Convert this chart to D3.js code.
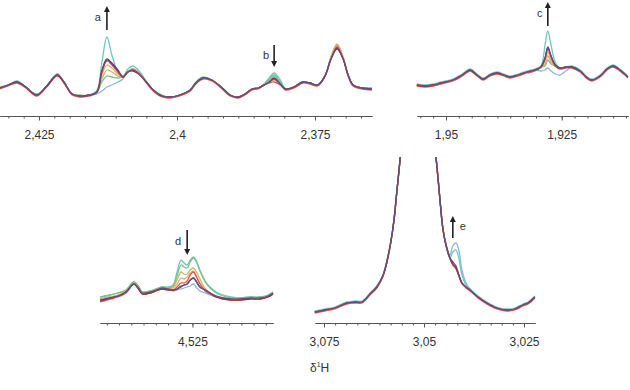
<!DOCTYPE html>
<html>
<head>
<meta charset="utf-8">
<script src="https://cdn.jsdelivr.net/npm/d3@7"></script>
<style>
  body { margin: 0; background: #fff; }
  svg text { font-family: "Liberation Sans", Arial, sans-serif; fill: #333; }
</style>
</head>
<body>
<svg id="chart" width="630" height="390"></svg>
<script>
// series order (one spectrum per time point)
var seriesNames = ["lightblue", "cyan", "green", "olive", "orange", "red", "darkred", "purple"];
var seriesColors = ["#8fb6dd", "#6fc7c1", "#7fbf86", "#c9b769", "#f2a676", "#d8574f", "#9a3046", "#5b5283"];

// panel A : 2,43 - 2,365 ppm
var ppmA = [2.4321,2.4306,2.4290,2.4274,2.4254,2.4236,2.4217,2.4205,2.4190,2.4176,2.4158,2.4145,2.4136,2.4127,2.4118,2.4107,2.4098,2.4089,2.4080,2.4067,2.4054,2.4043,2.4027,2.4013,2.3995,2.3976,2.3966,2.3953,2.3937,2.3918,2.3904,2.3889,2.3877,2.3864,2.3853,2.3842,2.3833,2.3824,2.3813,2.3803,2.3788,2.3772,2.3759,2.3745,2.3732,2.3721,2.3710,2.3699,2.3690,2.3681,2.3665,2.3647];
var intA = {
  lightblue: [12,15,18,13,5,14,25,18,6,4,5, 6,9,13,15,18,21,28,31,26, 17,10,4,3,5,10,17,22,20,12,5,3,6,11,12, 15,19,24,17, 11,13,18,17,15,24,42, 54, 42,25,15,12,12],
  cyan:      [12,15,19,13,5,14,26,18,6,4,5, 10,38,63,45,28,24,31,34,28, 17,10,4,3,5,10,18,23,20,12,5,3,6,11,12, 16,22,27,20, 11,13,18,17,15,24,42, 54, 42,25,15,12,11],
  green:     [13,15,18,13,6,14,26,18,6,5,5, 8,18,24,23,22,23,28,31,26, 17,10,5,3,5,10,17,22,20,12,5,3,6,11,12, 16,21,25,18, 11,13,18,17,15,24,43, 55, 42,25,15,12,12],
  olive:     [12,15,18,13,5,14,25,18,6,4,5, 8,21,30,28,24,23,28,31,26, 17,10,4,3,5,10,17,22,20,12,5,3,6,11,12, 15,18,21,16, 11,13,18,17,15,24,43, 56, 43,25,15,12,11],
  orange:    [12,15,18,13,5,14,25,18,6,4,5, 8,25,35,32,26,23,28,31,26, 17,10,4,3,5,10,17,22,20,12,5,3,6,11,12, 15,18,20,16, 11,13,18,17,15,24,42, 54, 42,25,15,12,11],
  red:       [11,14,17,12,4,13,24,17,5,3,4, 8,28,39,35,28,23,28,30,25, 16,9,3,2,4,9,16,21,19,11,4,2,5,10,11, 15,17,18,15, 10,12,17,16,14,23,41, 53, 41,24,14,11,10],
  darkred:   [12,15,18,13,5,14,25,18,6,4,5, 8,30,41,37,30,23,28,29,25, 17,10,4,3,5,10,17,22,20,12,5,3,6,11,12, 15,18,22,16, 11,13,18,17,15,24,41, 52, 41,25,15,12,11],
  purple:    [12,15,18,13,5,14,25,18,6,4,5, 8,29,40,36,29,23,28,30,25, 17,10,4,3,5,10,17,22,20,12,5,3,6,11,12, 15,18,21,16, 11,13,18,17,15,24,41, 51, 41,25,15,12,11]
};
var ticksA = [2.425, 2.4, 2.375];

// panel B : 1,956 - 1,911 ppm
var ppmB = [1.9563,1.9545,1.9528,1.9511,1.9485,1.9465,1.9448,1.9433,1.9420,1.9405,1.9390,1.9375,1.9362,1.9344,1.9325,1.9308,1.9295,1.9286,1.9280,1.9273,1.9264,1.9254,1.9241,1.9228,1.9210,1.9197,1.9185,1.9167,1.9152,1.9139,1.9124,1.9107];
var intB = {
  lightblue: [15,14,15,17,20,25,30,25,21,25,27,25,23,25,28,30, 29,30,32,29,26,25,29, 33,29,23,20,24,31,34,30,23],
  cyan:      [16,15,16,18,21,26,31,26,22,26,28,26,24,26,29,31, 34,55,69,55,38,32,33, 34,30,24,21,25,32,35,31,24],
  green:     [15,14,15,17,20,25,30,25,21,25,27,25,23,25,28,30, 33,34,40,36,34,32,33, 33,29,23,20,24,31,34,30,23],
  olive:     [15,14,15,17,20,25,30,25,21,25,27,25,23,25,28,30, 33,36,44,38,34,32,33, 33,29,23,20,24,31,34,30,23],
  orange:    [15,14,15,17,20,25,30,25,21,25,27,25,23,25,28,30, 33,38,48,40,34,32,33, 33,29,23,20,24,31,34,30,23],
  red:       [14,13,14,16,19,24,29,24,20,24,26,24,22,24,27,29, 33,41,52,43,34,31,32, 32,28,22,19,23,30,33,29,22],
  darkred:   [15,14,15,17,20,25,30,25,21,25,27,25,23,25,28,30, 33,42,53,44,35,32,33, 33,29,23,20,24,31,34,30,23],
  purple:    [15,14,15,17,20,25,30,25,21,25,27,25,23,25,28,30, 33,42,52,44,35,32,33, 33,29,23,20,24,31,34,30,23]
};
var ticksB = [1.95, 1.925];

// panel C : 4,546 - 4,507 ppm
var ppmC = [4.5460,4.5437,4.5419,4.5401,4.5383,4.5373,4.5364,4.5346,4.5333,4.5319,4.5305,4.5294,4.5285,4.5276,4.5269,4.5262,4.5255,4.5248,4.5242,4.5233,4.5221,4.5210,4.5196,4.5180,4.5162,4.5142,4.5119,4.5096,4.5078,4.5067];
var intC = {
  lightblue: [21,23,25,29,37,33,27,28,30,32,31, 29,30,31,32,33,34,36,33,29,27,25, 23,22,21,21,22,22,24,27],
  cyan:      [23,25,27,30,38,34,28,29,31,33,33, 35,48,60,57,55,60,63,60,50,39,33, 28,25,23,22,23,23,25,28],
  green:     [23,25,27,30,38,34,28,29,31,33,32, 34,44,55,53,52,58,62,59,49,38,32, 27,24,22,22,23,23,25,28],
  olive:     [21,23,25,29,37,33,27,28,30,32,31, 33,40,48,46,46,50,52,49,41,31,27, 24,22,21,21,22,22,24,27],
  orange:    [20,22,24,28,36,32,27,28,30,32,31, 32,36,42,41,43,47,49,45,37,31,27, 24,22,21,21,22,22,24,27],
  red:       [18,21,23,27,36,31,26,27,29,31,30, 30,33,37,37,39,45,48,44,36,29,26, 23,21,20,20,21,21,23,26],
  darkred:   [19,22,24,28,36,32,26,27,29,31,30, 30,31,34,35,36,40,42,39,33,30,27, 23,21,20,20,21,21,23,26],
  purple:    [20,22,24,28,36,32,27,28,30,32,31, 30,31,33,35,36,40,42,39,33,30,27, 24,22,21,21,22,22,24,27]
};
var ticksC = [4.525];

// panel D : 3,077 - 3,022 ppm (solvent peak goes off scale)
var ppmD = [3.0773,3.0748,3.0723,3.0693,3.0673,3.0655,3.0635,3.0618,3.0603,3.0593,3.0583,3.0575,3.0568,3.0560,3.0550,3.0535,3.0518,3.0500,3.0485,3.0475,3.0468,3.0460,3.0453,3.0445,3.0435,3.0428,3.0420,3.0413,3.0405,3.0395,3.0385,3.0365,3.0343,3.0318,3.0293,3.0273,3.0253,3.0240,3.0223];
var intD = {
  lightblue: [8,10,12,17,18,18,26,33,44,58,78,100,128,160,210,400,700,420,220,180,155,120,92,75,65,74,77,70,50,37,31,23,17,12,10,11,15,17,23],
  cyan:      [9,11,13,18,19,19,27,34,45,59,79,101,129,161,210,400,700,420,220,181,156,121,93,76,62,68,70,62,45,35,31,24,18,13,11,12,16,18,24],
  green:     [8,10,12,17,18,18,26,33,44,58,78,100,128,160,210,400,700,420,220,180,155,120,92,75,62,56,52,45,37,33,30,23,17,12,10,11,15,17,23],
  olive:     [8,10,12,17,18,18,26,33,44,58,78,100,128,160,210,400,700,420,220,180,155,120,92,75,62,56,52,45,37,33,30,23,17,12,10,11,15,17,23],
  orange:    [8,10,12,17,18,18,26,33,44,58,78,100,128,160,210,400,700,420,220,180,155,120,92,75,62,56,52,45,37,33,30,23,17,12,10,11,15,17,23],
  red:       [7,9,11,16,17,17,25,32,43,57,77,99,127,159,210,400,700,420,220,179,154,119,91,74,61,55,51,44,36,32,29,22,16,11,9,10,14,16,22],
  darkred:   [8,10,12,17,18,18,26,33,44,58,78,100,128,160,210,400,700,420,220,180,155,120,92,75,62,56,52,45,37,33,30,23,17,12,10,11,15,17,23],
  purple:    [8,10,12,17,18,18,26,33,44,58,78,100,128,160,210,400,700,420,220,180,155,120,92,75,62,58,54,45,37,33,30,23,17,12,10,11,15,17,23]
};
var ticksD = [3.075, 3.05, 3.025];

// arrows: label, ppm, direction
var arrowLabels = ["a", "b", "c", "d", "e"];
var arrowPpm = [2.4127, 2.3824, 1.9280, 4.5262, 3.0428];
var arrowDir = ["up", "down", "up", "down", "up"];

var svg = d3.select("#chart");
var fmt = d3.formatLocale({decimal: ",", thousands: ".", grouping: [3], currency: ["", ""]}).format(".4~f");

var panels = [
  {id: "A", ppm: ppmA, ints: intA, ticks: ticksA, x0: 0,   x1: 372, dom: [2.43207, 2.36467], axisY: 116, yr: [100, 0]},
  {id: "B", ppm: ppmB, ints: intB, ticks: ticksB, x0: 417, x1: 628, dom: [1.95627, 1.91067], axisY: 116, yr: [100, 0]},
  {id: "C", ppm: ppmC, ints: intC, ticks: ticksC, x0: 100, x1: 273, dom: [4.5460, 4.5067],   axisY: 323, yr: [320, 220]},
  {id: "D", ppm: ppmD, ints: intD, ticks: ticksD, x0: 315, x1: 535, dom: [3.07725, 3.02225], axisY: 323, yr: [320, 220], clipTop: 157}
];

panels.forEach(function(p) {
  var x = d3.scaleLinear().domain(p.dom).range([p.x0, p.x1]);
  var y = d3.scaleLinear().domain([0, 100]).range(p.yr);
  p.x = x; p.y = y;

  var g = svg.append("g").attr("class", "panel-" + p.id);

  if (p.clipTop) {
    svg.append("clipPath").attr("id", "clip" + p.id)
      .append("rect")
      .attr("x", p.x0 - 2).attr("y", p.clipTop)
      .attr("width", p.x1 - p.x0 + 4).attr("height", p.axisY - p.clipTop);
    g.attr("clip-path", "url(#clip" + p.id + ")");
  }

  var line = d3.line()
    .x(function(d) { return x(d[0]); })
    .y(function(d) { return y(d[1]); })
    .curve(d3.curveCatmullRom.alpha(0.5));

  seriesNames.forEach(function(name, i) {
    var pts = p.ppm.map(function(v, k) { return [v, p.ints[name][k]]; });
    g.append("path")
      .datum(pts)
      .attr("fill", "none")
      .attr("stroke", seriesColors[i])
      .attr("stroke-width", 1.3)
      .attr("stroke-linejoin", "round")
      .attr("d", line);
  });

  // minor ticks every major/9
  var step = 0.025 / 9;
  var lo = Math.min(p.dom[0], p.dom[1]), hi = Math.max(p.dom[0], p.dom[1]);
  var minor = d3.range(-40, 40)
    .map(function(i) { return p.ticks[0] + i * step; })
    .filter(function(v) { return v > lo && v < hi; });

  svg.append("g")
    .attr("class", "minor-axis")
    .attr("transform", "translate(0," + p.axisY + ")")
    .call(d3.axisBottom(x).tickValues(minor).tickSize(2.5).tickSizeOuter(0).tickFormat(""))
    .call(function(s) {
      s.select(".domain").attr("stroke", "#555");
      s.selectAll(".tick line").attr("stroke", "#555");
    });

  svg.append("g")
    .attr("class", "x-axis")
    .attr("transform", "translate(0," + p.axisY + ")")
    .call(d3.axisBottom(x).tickValues(p.ticks).tickSize(4.5).tickSizeOuter(0).tickPadding(10).tickFormat(fmt))
    .call(function(s) {
      s.select(".domain").attr("stroke", "#555");
      s.selectAll(".tick line").attr("stroke", "#555");
      s.selectAll(".tick text").attr("fill", "#333").style("font-size", "12px");
    });
});

// arrows
var arrowPanel = [0, 0, 1, 2, 3];
var arrowTop = [6, 45, 2, 230, 216];
var arrowLen = [24, 22, 24, 25, 22];
var labelDx = [-9, -8, -8, -9, 10];

arrowLabels.forEach(function(lbl, i) {
  var p = panels[arrowPanel[i]];
  var ax = p.x(arrowPpm[i]);
  var t = arrowTop[i], b = t + arrowLen[i];
  var g = svg.append("g").attr("class", "arrow");
  var headAt = arrowDir[i] === "up" ? t : b;
  var sgn = arrowDir[i] === "up" ? 1 : -1;
  g.append("line")
    .attr("x1", ax).attr("x2", ax)
    .attr("y1", arrowDir[i] === "up" ? t + 4 : t)
    .attr("y2", arrowDir[i] === "up" ? b : b - 4)
    .attr("stroke", "#222").attr("stroke-width", 1.6);
  g.append("path")
    .attr("d", "M" + ax + "," + headAt + "L" + (ax - 3) + "," + (headAt + sgn * 6) + "L" + (ax + 3) + "," + (headAt + sgn * 6) + "Z")
    .attr("fill", "#222");
  g.append("text")
    .attr("x", ax + labelDx[i])
    .attr("y", t + arrowLen[i] * 0.45 + 4)
    .attr("text-anchor", "middle")
    .style("font-size", "11px")
    .text(lbl);
});

// axis title
var title = svg.append("text")
  .attr("x", 310).attr("y", 372)
  .style("font-size", "12px");
title.append("tspan").text("δ");
title.append("tspan").attr("dy", -5).style("font-size", "7px").text("1");
title.append("tspan").attr("dy", 5).text("H");
</script>
</body>
</html>
